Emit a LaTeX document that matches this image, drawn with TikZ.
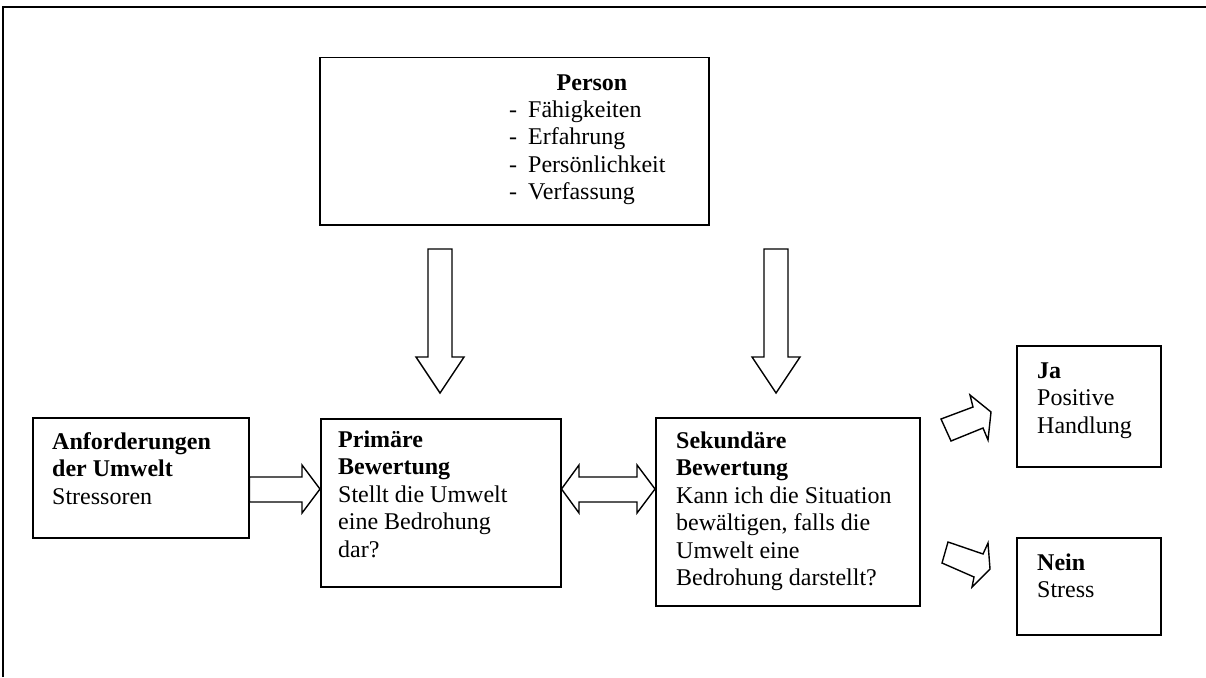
\documentclass[tikz,border=0pt]{standalone}
\usepackage{fontspec}
\setmainfont{Liberation Serif}
\usetikzlibrary{calc}
\tikzset{
  box/.style={draw=black, line width=1.5pt, rectangle, inner sep=0pt, anchor=north west},
  txt/.style={inner sep=0pt, align=left, font=\fontsize{24}{27.5}\selectfont},
  barrow/.style={draw=black, line width=1.4pt, fill=white, line join=miter},
  frame/.style={draw=black, line width=2pt}
}
\newcommand\blkdown[1]{%
  \draw[barrow] (#1-12,249) -- (#1+12,249) -- (#1+12,357) -- (#1+24,357) -- (#1,393)
    -- (#1-24,357) -- (#1-12,357) -- cycle;}
\begin{document}
\begin{tikzpicture}[x=1pt,y=-1pt]
\useasboundingbox (0,0) rectangle (1206,677);
% outer frame
\draw[frame] (3,677) -- (3,7) -- (1206,7);
% boxes
\node[box, minimum width=389pt, minimum height=167pt] (person) at (319,57) {};
\node[box, minimum width=216pt, minimum height=120pt] (anf) at (32,417) {};
\node[box, minimum width=240pt, minimum height=168pt] (prim) at (320,418) {};
\node[box, minimum width=264pt, minimum height=188pt] (sek) at (655,417) {};
\node[box, minimum width=144pt, minimum height=121pt] (ja) at (1016,345) {};
\node[box, minimum width=144pt, minimum height=97pt] (nein) at (1016,537) {};
% texts (anchor base west = baseline of the last line)
\node[txt, anchor=base] (ptitle) at (592,90) {\textbf{Person}};
\node[txt, anchor=base west] (plist) at (509,199.5) {\makebox[19pt][l]{-}Fähigkeiten\\\makebox[19pt][l]{-}Erfahrung\\\makebox[19pt][l]{-}Persönlichkeit\\\makebox[19pt][l]{-}Verfassung};
\node[txt, anchor=base west] (anftxt) at (52,504) {\textbf{Anforderungen}\\\textbf{der Umwelt}\\Stressoren};
\node[txt, anchor=base west] (primtxt) at (338,557) {\textbf{Primäre}\\\textbf{Bewertung}\\Stellt die Umwelt\\eine Bedrohung\\dar?};
\node[txt, anchor=base west] (sektxt) at (676,585.5) {\textbf{Sekundäre}\\\textbf{Bewertung}\\Kann ich die Situation\\bewältigen, falls die\\Umwelt eine\\Bedrohung darstellt?};
\node[txt, anchor=base west] (jatxt) at (1037,433) {\textbf{Ja}\\Positive\\Handlung};
\node[txt, anchor=base west] (neintxt) at (1037,597.5) {\textbf{Nein}\\Stress};
% down arrows from person
\blkdown{440}
\blkdown{776}
% right arrow anf -> prim
\draw[barrow] (anf.east |- 0,477) -- (302,477) -- (302,465) -- (prim.west |- 0,489)
  -- (302,513) -- (302,502) -- (anf.east |- 0,502) -- cycle;
% double arrow prim <-> sek
\draw[barrow] (prim.east |- 0,489) -- (579,465) -- (579,477) -- (637,477) -- (637,465)
  -- (sek.west |- 0,489) -- (637,513) -- (637,502) -- (579,502) -- (579,513) -- cycle;
% tilted arrows to ja / nein
\draw[barrow] (941,419) -- (973,407) -- (970,395) -- (991,412) -- (988,440) -- (983,428) -- (951,441) -- cycle;
\draw[barrow] (948,542) -- (983,554) -- (988,543) -- (990,569) -- (972,587) -- (974,577) -- (942,563) -- cycle;
\end{tikzpicture}
\end{document}
